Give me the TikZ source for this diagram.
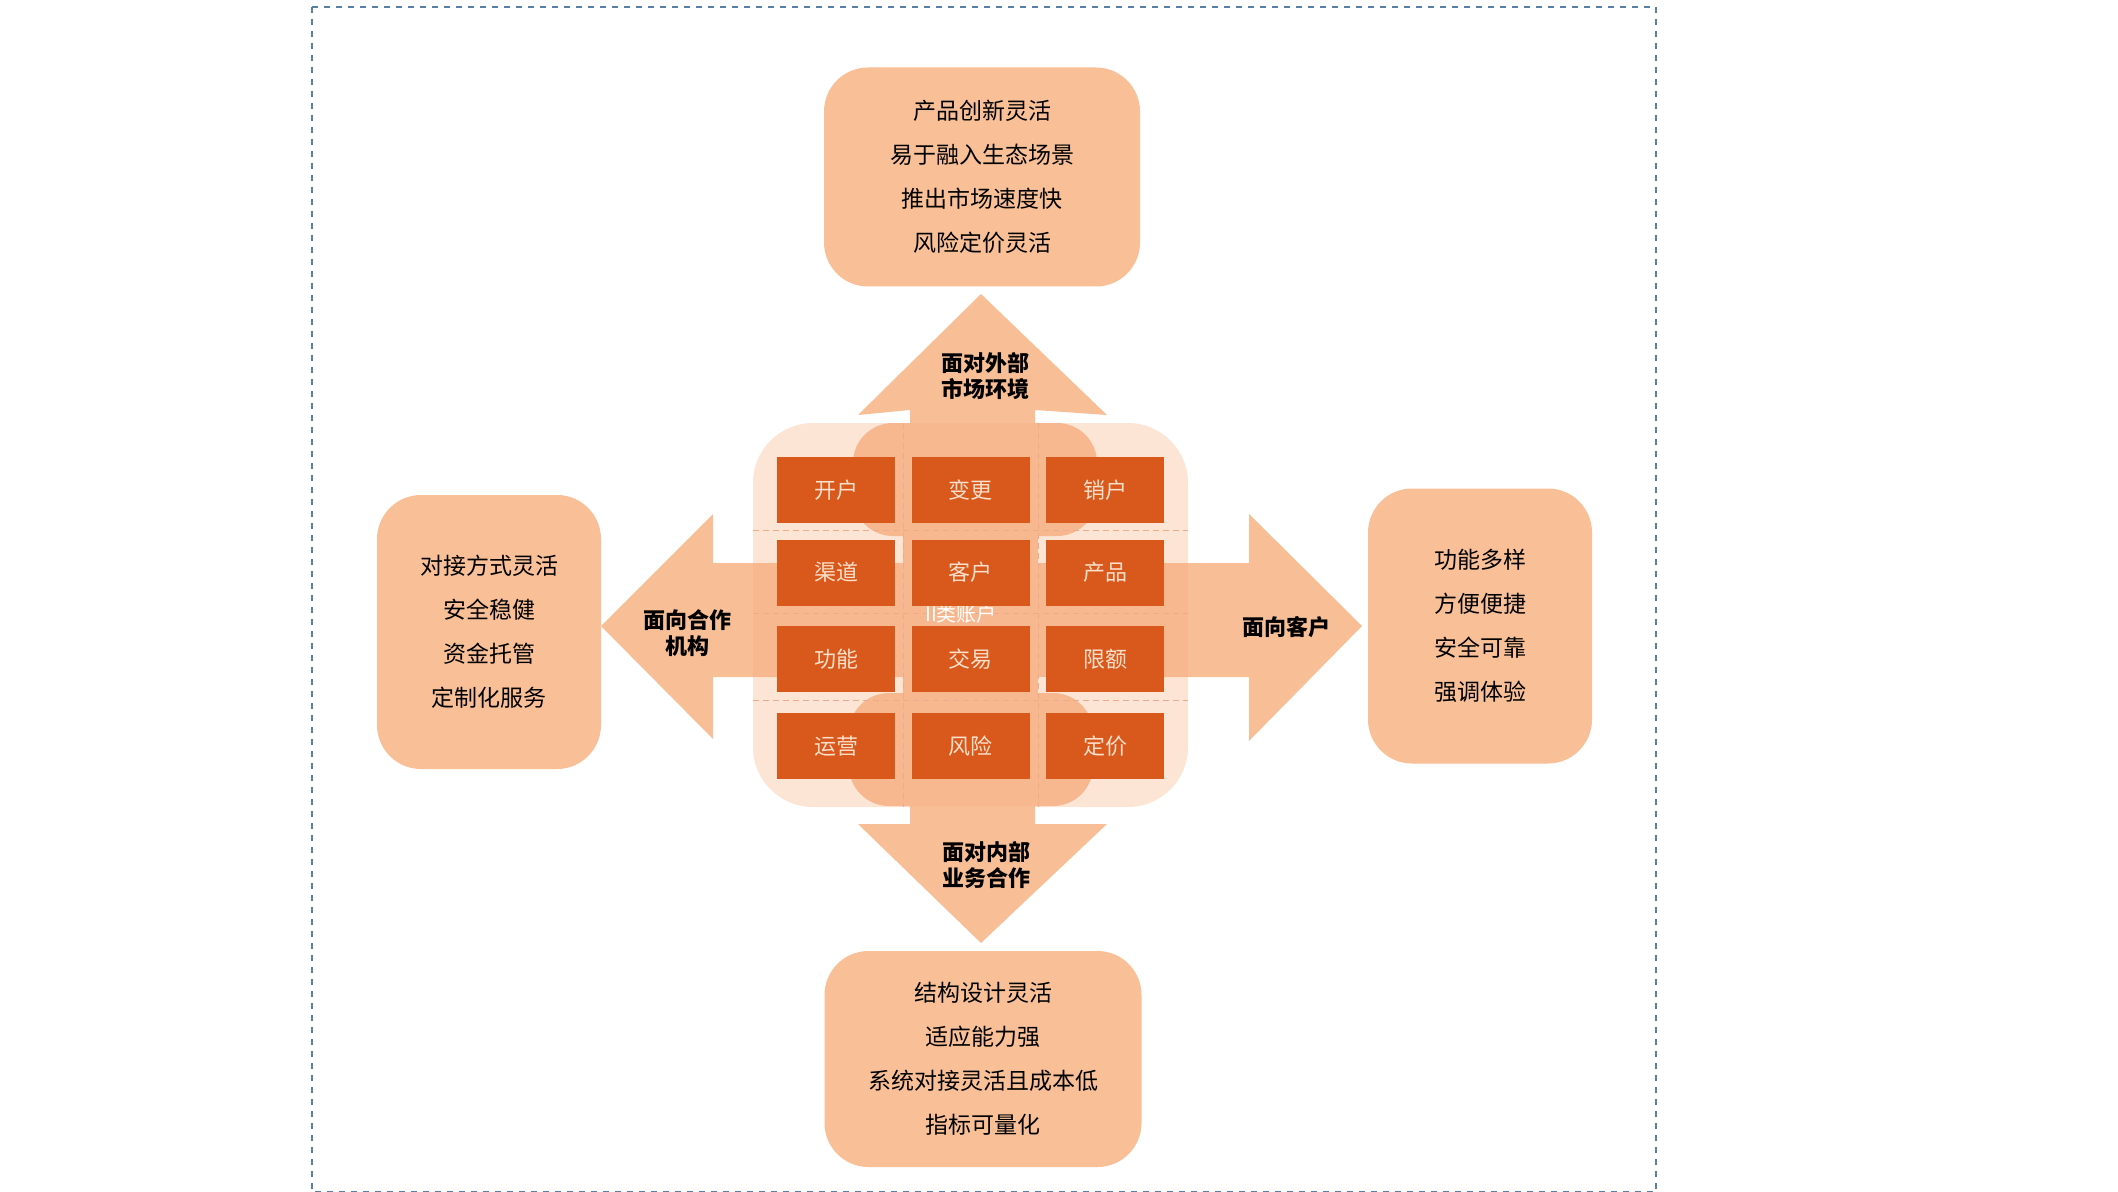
\documentclass[tikz,border=0pt]{standalone}
\usepackage{fontspec}
\setmainfont{Noto Sans CJK SC}
\begin{document}
\begin{tikzpicture}[x=0.5pt,y=-0.5pt,
  box/.style={fill=boxc,rounded corners=22pt},
  arr/.style={fill=arrc},
  tile/.style={fill=tilec,text=tiletxt,font=\fontsize{11}{13}\selectfont},
  btxt/.style={align=center,font=\fontsize{11.5}{22}\selectfont},
  atxt/.style={align=center,font=\bfseries\fontsize{11}{13}\selectfont}]
\definecolor{boxc}{HTML}{F9C097}
\definecolor{arrc}{HTML}{F8BF96}
\definecolor{tilec}{HTML}{D9581C}
\definecolor{tiletxt}{HTML}{FBE0CC}
\definecolor{sqc}{HTML}{FCE5D5}
\definecolor{bandc}{HTML}{F7B890}
\definecolor{framec}{HTML}{5A7FA5}
\useasboundingbox (0,0) rectangle (2118,1192);
\fill[white] (0,0) rectangle (2118,1192);
\draw[framec,dashed,line width=0.8pt] (312,7) rectangle (1656,1192);
% outer boxes
\node[box,minimum width=316*0.5pt,minimum height=219*0.5pt] (top) at (982,177) {};
\node[btxt] at (top) {产品创新灵活\\易于融入生态场景\\推出市场速度快\\风险定价灵活};
\node[box,minimum width=224*0.5pt,minimum height=274*0.5pt] (left) at (489,632) {};
\node[btxt] at (left) {对接方式灵活\\安全稳健\\资金托管\\定制化服务};
\node[box,minimum width=224*0.5pt,minimum height=275*0.5pt] (right) at (1480,626) {};
\node[btxt] at (right) {功能多样\\方便便捷\\安全可靠\\强调体验};
\node[box,minimum width=317*0.5pt,minimum height=216*0.5pt] (bot) at (983,1059) {};
\node[btxt] at (bot) {结构设计灵活\\适应能力强\\系统对接灵活且成本低\\指标可量化};
% central square
\fill[sqc,rounded corners=30pt] (753,423) rectangle (1188,807);
% arrows
\fill[arr] (910,440) -- (910,410) -- (858,415) -- (981,294) -- (1107,415) -- (1035,410) -- (1035,440) -- cycle;
\fill[arr] (910,790) -- (910,824) -- (858,824) -- (981,943) -- (1107,824) -- (1035,824) -- (1035,790) -- cycle;
\fill[arr] (790,563) -- (713,563) -- (713,514) -- (601,626) -- (713,739) -- (713,677) -- (790,677) -- cycle;
\fill[arr] (1150,563) -- (1249,563) -- (1249,514) -- (1362,626) -- (1249,741) -- (1249,677) -- (1150,677) -- cycle;
\node[atxt] (ta) at (985,376) {面对外部\\市场环境};
\node[atxt] (ba) at (986,865) {面对内部\\业务合作};
\node[atxt] (la) at (687,633) {面向合作\\机构};
\node[atxt] (ra) at (1286,627) {面向客户};
% bands
\fill[bandc,rounded corners=20pt] (853,423) rectangle (1097,536);
\fill[bandc,rounded corners=20pt] (849,693) rectangle (1093,806);
\fill[bandc] (903,536) rectangle (1038,693);
\fill[bandc] (1038,563) rectangle (1188,677);
\fill[bandc] (753,563) rectangle (903,677);
% dashed grid lines
\begin{scope}[draw=tilec!50,densely dashed,line width=0.3pt]
\draw (753,530) -- (1188,530);
\draw (753,613) -- (1188,613);
\draw (753,700) -- (1188,700);
\draw (903,423) -- (903,807);
\draw (1038,423) -- (1038,807);
\end{scope}
\node[text=white,font=\fontsize{10}{12}\selectfont] (ii) at (961,614) {II类账户};
% tiles
\foreach \r/\ya/\yb [count=\i] in {1/457/523,2/540/605,3/626/692,4/713/779}{
  \foreach \c/\xa/\xb in {1/777/895,2/911/1030,3/1045/1165}{
    \coordinate (p\r\c) at ({(\xa+\xb)/2},{(\ya+\yb)/2});
  }
}
\tikzset{tl/.style={tile,minimum width=59pt,minimum height=33pt,inner sep=0pt}}
\node[tl] (t11) at (p11) {开户};
\node[tl] (t12) at (p12) {变更};
\node[tl] (t13) at (p13) {销户};
\node[tl] (t21) at (p21) {渠道};
\node[tl] (t22) at (p22) {客户};
\node[tl] (t23) at (p23) {产品};
\node[tl] (t31) at (p31) {功能};
\node[tl] (t32) at (p32) {交易};
\node[tl] (t33) at (p33) {限额};
\node[tl] (t41) at (p41) {运营};
\node[tl] (t42) at (p42) {风险};
\node[tl] (t43) at (p43) {定价};
\end{tikzpicture}
\end{document}
